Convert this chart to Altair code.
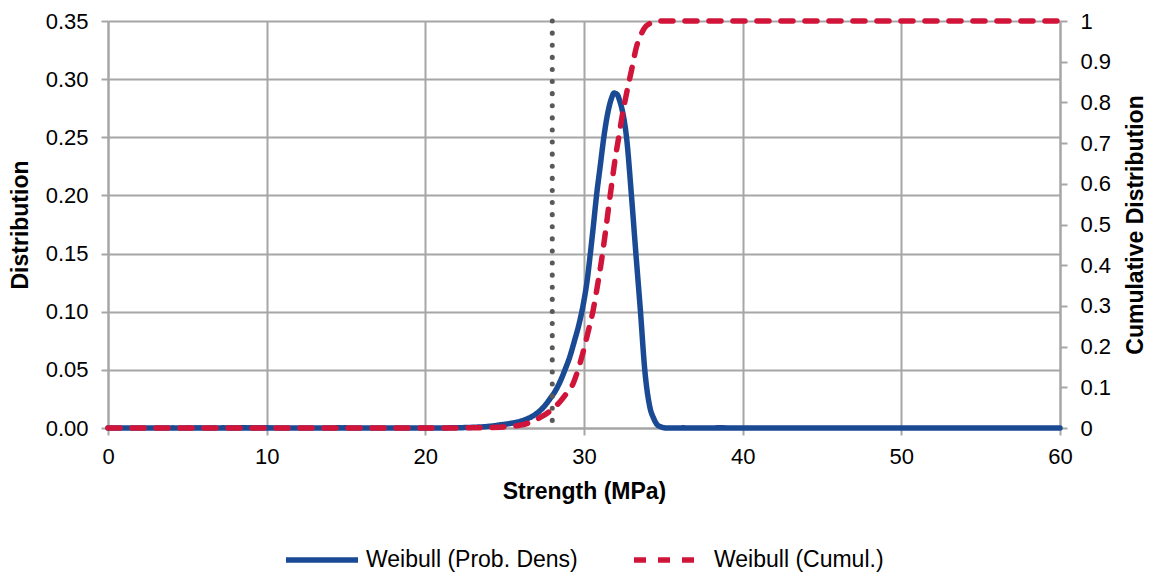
import altair as alt
import pandas as pd

# ---- data ----
series_names = ["Weibull (Prob. Dens)", "Weibull (Cumul.)"]

pdf_x = [0, 10, 20, 22, 23, 24, 24.7, 25.4, 26, 26.4,
         26.8, 27.2, 27.55, 27.85, 28.2, 28.5, 28.8, 29.1, 29.4, 29.7,
         29.95, 30.2, 30.4, 30.6, 30.79, 31.02, 31.25, 31.5, 31.72, 31.9,
         32.08, 32.26, 32.43, 32.68, 32.99, 33.27, 33.56, 33.83, 34.15, 34.4,
         34.6, 34.85, 35.2, 40, 50, 60]
pdf_y = [0, 0, 0, 0.0002, 0.0006, 0.0014, 0.0026, 0.004, 0.0058, 0.0078,
         0.0105, 0.0145, 0.0195, 0.025, 0.032, 0.040, 0.050, 0.061, 0.075, 0.090,
         0.106, 0.127, 0.150, 0.175, 0.20, 0.225, 0.25, 0.271, 0.283, 0.288,
         0.287, 0.281, 0.272, 0.25, 0.20, 0.15, 0.10, 0.05, 0.018, 0.008,
         0.003, 0.001, 0, 0, 0, 0]

cdf_x = [0, 10, 20, 23, 24.7, 25.4, 26, 26.4, 26.8, 27.2,
         27.7, 28.1, 28.5, 28.9, 29.3, 29.6, 29.9, 30.25, 30.58, 30.85,
         31.11, 31.33, 31.53, 31.75, 31.95, 32.17, 32.4, 32.68, 33.0, 33.31,
         33.63, 33.9, 34.15, 34.5, 34.8, 40, 50, 60]
cdf_y = [0, 0, 0, 0.0005, 0.002, 0.004, 0.007, 0.011, 0.017, 0.025,
         0.037, 0.05, 0.065, 0.085, 0.108, 0.14, 0.18, 0.235, 0.29, 0.35,
         0.413, 0.475, 0.536, 0.60, 0.658, 0.71, 0.765, 0.822, 0.88, 0.937,
         0.97, 0.987, 0.994, 0.999, 1.0, 1, 1, 1]

threshold_x = [28]

x_ticks = [0, 10, 20, 30, 40, 50, 60]
left_ticks = [0, 0.05, 0.10, 0.15, 0.20, 0.25, 0.30, 0.35]
right_ticks = [0, 0.1, 0.2, 0.3, 0.4, 0.5, 0.6, 0.7, 0.8, 0.9, 1]

# ---- tables ----
df_pdf = pd.DataFrame({"x": pdf_x, "pdf": pdf_y, "series": series_names[0]})
df_cdf = pd.DataFrame({"x": cdf_x, "cdf": cdf_y, "series": series_names[1]})
df_thr = pd.DataFrame({"x": threshold_x})

FONT = "Liberation Sans"
BLUE = "#1B4A94"
RED = "#D1153A"

color_scale = alt.Scale(domain=series_names, range=[BLUE, RED])
dash_scale = alt.Scale(domain=series_names, range=[[1, 0], [12, 12]])

legend = alt.Legend(
    orient="none", legendX=175, legendY=500, direction="horizontal",
    title=None, symbolType="stroke", symbolSize=5184, symbolStrokeWidth=5.5,
    labelFontSize=23, labelFont=FONT, labelColor="#000000",
    columnPadding=45, labelOffset=5, labelLimit=400,
)

x_enc = alt.X("x:Q", scale=alt.Scale(domain=[0, 60], nice=False),
              axis=alt.Axis(values=x_ticks, format="d", title="Strength (MPa)",
                            grid=True, tickSize=7, labelPadding=11,
                            labelFlush=False,
                            titleY=63, titleBaseline="middle"))

pdf_line = alt.Chart(df_pdf).mark_line(
    strokeWidth=5.5, interpolate="monotone", strokeCap="round", strokeJoin="round"
).encode(
    x=x_enc,
    y=alt.Y("pdf:Q", scale=alt.Scale(domain=[0, 0.35], nice=False),
            axis=alt.Axis(orient="left", values=left_ticks, format=".2f",
                          title="Distribution", grid=True, tickSize=7,
                          labelPadding=13, titleX=-88, titleY=203.5,
                          titleAngle=270, titleAlign="center",
                          titleBaseline="middle")),
    color=alt.Color("series:N", scale=color_scale, legend=legend),
    strokeDash=alt.StrokeDash("series:N", scale=dash_scale, legend=legend),
)

cdf_line = alt.Chart(df_cdf).mark_line(
    strokeWidth=5.5, interpolate="monotone", strokeCap="round", strokeJoin="round"
).encode(
    x=alt.X("x:Q"),
    y=alt.Y("cdf:Q", scale=alt.Scale(domain=[0, 1], nice=False),
            axis=alt.Axis(orient="right", values=right_ticks, format="~g",
                          title="Cumulative Distribution", grid=False,
                          tickSize=7, labelPadding=13, titleX=75,
                          titleY=203.5, titleAngle=270, titleAlign="center",
                          titleBaseline="middle")),
    color=alt.Color("series:N", scale=color_scale, legend=legend),
    strokeDash=alt.StrokeDash("series:N", scale=dash_scale, legend=legend),
)

thr_rule = alt.Chart(df_thr).mark_rule(
    color="#595959", strokeWidth=5, strokeDash=[0.1, 12], strokeCap="round"
).encode(x=alt.X("x:Q"))

chart = (
    alt.layer(pdf_line, cdf_line, thr_rule)
    .resolve_scale(y="independent")
    .properties(
        width=952, height=407,
        autosize=alt.AutoSizeParams(type="none"),
        padding={"left": 108, "top": 21, "right": 94, "bottom": 148},
        background="white",
    )
    .configure_view(stroke=None)
    .configure_axis(
        labelFont=FONT, labelFontSize=22, labelColor="#000000",
        titleFont=FONT, titleFontSize=23, titleFontWeight="bold",
        titleColor="#000000",
        domainColor="#A6A6A6", domainWidth=2,
        tickColor="#A6A6A6", tickWidth=2,
        gridColor="#A6A6A6", gridWidth=2,
    )
)

chart.save("out.html", embed_options={"renderer": "svg", "actions": False})
